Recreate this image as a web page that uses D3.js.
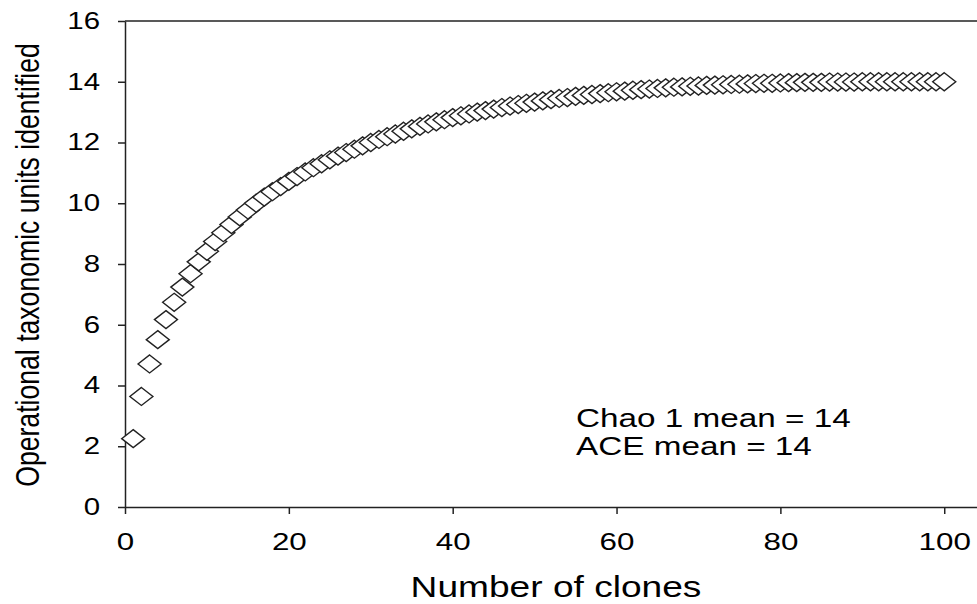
<!DOCTYPE html>
<html>
<head>
<meta charset="utf-8">
<script src="https://cdn.jsdelivr.net/npm/d3@7"></script>
<style>
  body { margin: 0; background: #fff; }
  text { font-family: "Liberation Sans", Arial, sans-serif; fill: #000; }
</style>
</head>
<body>
<div id="chart"></div>
<script>
const clones = [1,2,3,4,5,6,7,8,9,10,11,12,13,14,15,16,17,18,19,20,
    21,22,23,24,25,26,27,28,29,30,31,32,33,34,35,36,37,38,39,40,
    41,42,43,44,45,46,47,48,49,50,51,52,53,54,55,56,57,58,59,60,
    61,62,63,64,65,66,67,68,69,70,71,72,73,74,75,76,77,78,79,80,
    81,82,83,84,85,86,87,88,89,90,91,92,93,94,95,96,97,98,99,100]
const otus = [2.25,3.64,4.71,5.51,6.17,6.74,7.24,7.68,8.07,8.42,
    8.74,9.03,9.30,9.55,9.78,10.0,10.2,10.38,10.55,10.72,
    10.88,11.03,11.17,11.30,11.43,11.55,11.67,11.78,11.89,12.0,
    12.1,12.19,12.28,12.37,12.45,12.53,12.61,12.68,12.75,12.82,
    12.88,12.94,13.0,13.05,13.1,13.15,13.2,13.25,13.29,13.33,
    13.37,13.41,13.45,13.48,13.52,13.55,13.58,13.61,13.64,13.67,
    13.69,13.72,13.74,13.76,13.78,13.8,13.82,13.83,13.85,13.86,
    13.88,13.89,13.9,13.91,13.92,13.93,13.94,13.95,13.95,13.96,
    13.97,13.97,13.98,13.98,13.98,13.99,13.99,13.99,13.99,14.0,
    14.0,14.0,14.0,14.0,14.0,14.0,14.0,14.0,14.0,14.0]
const x_ticks = [0, 20, 40, 60, 80, 100]
const y_ticks = [0, 2, 4, 6, 8, 10, 12, 14, 16]
const notes = ["Chao 1 mean = 14", "ACE mean = 14"]

const width = 977, height = 604
const stretch = 1.28   // the picture is wider than tall, text and markers too
const margin = {left: 125, top: 21, bottom: 507}

let svg = d3.select("#chart")
    .append("svg")
    .attr("width", width)
    .attr("height", height)

// axis runs past 100 to the right edge of the picture
const x = d3.scaleLinear()
    .domain([0, 104])
    .range([margin.left, width])
const y = d3.scaleLinear()
    .domain([0, 16])
    .range([margin.bottom, margin.top])

// top frame line
svg.append("line")
    .attr("x1", margin.left).attr("x2", width)
    .attr("y1", margin.top).attr("y2", margin.top)
    .attr("stroke", "#222")
    .attr("stroke-width", 1.5)

let xg = svg.append("g")
    .attr("transform", "translate(0," + margin.bottom + ")")
    .call(d3.axisBottom(x)
        .tickValues(x_ticks)
        .tickSizeInner(7)
        .tickSizeOuter(0)
        .tickPadding(19))
xg.selectAll("text")
    .style("font-size", "24.5px")
    .attr("transform", "scale(" + stretch + ",1)")

let yg = svg.append("g")
    .attr("transform", "translate(" + margin.left + ",0)")
    .call(d3.axisLeft(y)
        .tickValues(y_ticks)
        .tickSizeInner(7)
        .tickSizeOuter(0)
        .tickPadding(12.5))
yg.selectAll("text")
    .style("font-size", "23px")
    .attr("transform", "scale(" + stretch + ",1)")

svg.selectAll(".domain, .tick line")
    .attr("stroke", "#222")
    .attr("stroke-width", 1.5)

// markers: hollow diamonds, later ones on top
const diamond = d3.symbol().type(d3.symbolSquare).size(162)
svg.append("g")
    .selectAll("path")
    .data(clones)
    .join("path")
    .attr("d", diamond)
    .attr("transform", (d, i) => "translate(" + x(d) + "," + y(otus[i]) + ") scale(" + stretch + ",1) rotate(45)")
    .attr("fill", "#fff")
    .attr("stroke", "#222")
    .attr("stroke-width", 1.4)
    .attr("vector-effect", "non-scaling-stroke")

// annotation
notes.forEach(function(t, i) {
    svg.append("text")
        .attr("transform", "translate(576," + (427 + i * 28) + ") scale(" + stretch + ",1)")
        .style("font-size", "26px")
        .text(t)
})

// axis titles
svg.append("text")
    .attr("transform", "translate(556,597) scale(" + stretch + ",1)")
    .attr("text-anchor", "middle")
    .style("font-size", "29px")
    .text("Number of clones")

svg.append("text")
    .attr("transform", "translate(39,265) scale(" + stretch + ",1) rotate(-90)")
    .attr("text-anchor", "middle")
    .style("font-size", "26.6px")
    .text("Operational taxonomic units identified")
</script>
</body>
</html>
